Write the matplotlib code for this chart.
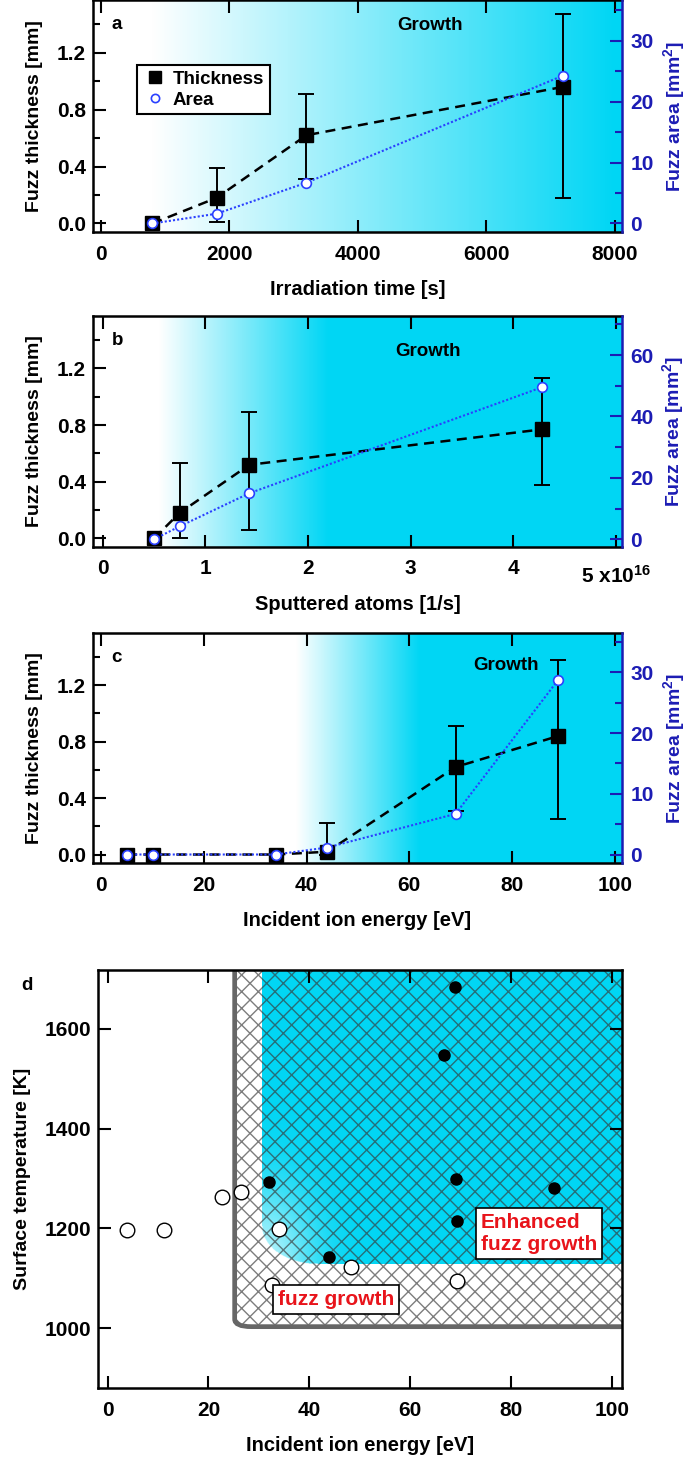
import numpy as np
import matplotlib
matplotlib.use("Agg")
import matplotlib.pyplot as plt
from matplotlib.patches import Rectangle, PathPatch
from matplotlib.path import Path
from matplotlib.ticker import MultipleLocator

plt.rcParams["font.family"] = ["Liberation Sans", "DejaVu Sans"]
plt.rcParams["font.weight"] = "bold"
plt.rcParams["axes.labelweight"] = "bold"
plt.rcParams["mathtext.fontset"] = "custom"
plt.rcParams["mathtext.rm"] = "Liberation Sans:bold"
plt.rcParams["mathtext.default"] = "rm"
plt.rcParams["hatch.linewidth"] = 1.0

CYAN = np.array([0.0, 0.84, 0.96])
BLUE_TXT = "#1c1cb4"
BLUE_LINE = "#2a40ff"
RED = "#e8141b"

# panel a: irradiation time
time_s = [800, 1800, 3200, 7200]
thick_a = [0.0, 0.18, 0.62, 0.96]
thick_a_lo = [0.0, 0.01, 0.31, 0.18]
thick_a_hi = [0.0, 0.39, 0.91, 1.47]
area_a = [0.0, 1.6, 6.7, 24.3]

# panel b: sputtered atoms (x1e16)
sputter = [0.5, 0.75, 1.43, 4.28]
thick_b = [0.0, 0.18, 0.52, 0.77]
thick_b_lo = [0.0, 0.0, 0.06, 0.38]
thick_b_hi = [0.0, 0.53, 0.89, 1.13]
area_b = [0.0, 4.2, 15.0, 49.5]

# panel c: ion energy
energy_c = [5, 10, 34, 44, 69, 89]
thick_c = [0.0, 0.0, 0.0, 0.02, 0.62, 0.84]
thick_c_lo = [0.0, 0.0, 0.0, 0.0, 0.31, 0.25]
thick_c_hi = [0.0, 0.0, 0.0, 0.22, 0.91, 1.38]
area_c = [0.0, 0.0, 0.0, 1.15, 6.7, 28.8]

# panel d: no fuzz (open) / fuzz (filled)
open_e = [3.8, 11.2, 22.6, 26.5, 34.0, 32.7, 48.2, 69.2]
open_T = [1196, 1196, 1263, 1272, 1198, 1087, 1122, 1094]
fill_e = [32.1, 44.0, 66.7, 68.8, 69.0, 69.2, 88.6]
fill_T = [1292, 1142, 1547, 1683, 1300, 1214, 1280]

fig = plt.figure(figsize=(6.85, 14.57), dpi=100)
W, H = 685, 1457


def add_ax(x0, x1, y0, y1):
    return fig.add_axes([x0 / W, 1 - y1 / H, (x1 - x0) / W, (y1 - y0) / H])


def gradient(ax, xlim, ylim, g0, g1):
    xs = np.linspace(xlim[0], xlim[1], 600)
    t = np.clip((xs - g0) / (g1 - g0), 0, 1)
    img = np.ones((1, len(xs), 3)) * (1 - t[None, :, None]) + CYAN * t[None, :, None]
    ax.imshow(img, extent=[xlim[0], xlim[1], ylim[0], ylim[1]], aspect="auto",
              interpolation="bilinear", zorder=0)


def fuzz_panel(box, x, th, lo, hi, area, xlim, rlim, rstep, g0, g1, letter, grow_xy):
    ylim = (-0.06, 1.57)
    ax = add_ax(*box)
    gradient(ax, xlim, ylim, g0, g1)
    x = np.array(x, float)
    th = np.array(th)
    lo = np.array(lo)
    hi = np.array(hi)
    m = (hi - lo) > 0
    ax.errorbar(x[m], th[m], yerr=[th[m] - lo[m], hi[m] - th[m]], fmt="none",
                ecolor="black", elinewidth=1.4, capsize=5.5, capthick=1.4, zorder=3)
    ax.plot(x, th, color="black", ls=(0, (4, 2.6)), lw=1.8, zorder=3)
    sq, = ax.plot(x, th, "s", color="black", ms=9.5, zorder=4, label="Thickness")
    ax.set_xlim(xlim)
    ax.set_ylim(ylim)
    ax.yaxis.set_major_locator(MultipleLocator(0.4))
    ax.yaxis.set_minor_locator(MultipleLocator(0.2))
    ax.yaxis.set_major_formatter(lambda v, p: f"{v:.1f}")
    ax.tick_params(which="both", direction="in", top=True, right=False, width=1.5,
                   labelsize=15)
    ax.tick_params(which="major", length=9)
    ax.tick_params(axis="x", pad=9)
    ax.tick_params(axis="y", pad=5)
    ax.tick_params(which="minor", length=5)
    for s in ax.spines.values():
        s.set_linewidth(1.8)
    ax.spines["right"].set_visible(False)
    ax.set_ylabel("Fuzz thickness [mm]", fontsize=14, labelpad=10)
    ax.text(0.035, 0.93, letter, transform=ax.transAxes, fontsize=13.5, va="top")
    ax.text(grow_xy[0], grow_xy[1], "Growth", fontsize=13.5, ha="center", va="center")

    ax2 = ax.twinx()
    ax2.plot(x, area, color=BLUE_LINE, ls=(0, (1, 1)), lw=1.5, zorder=3)
    ci, = ax2.plot(x, area, "o", mfc="white", mec=BLUE_LINE, mew=1.2, ms=7,
                   zorder=5, label="Area")
    ax2.set_ylim(rlim)
    ax2.yaxis.set_major_locator(MultipleLocator(rstep))
    ax2.yaxis.set_minor_locator(MultipleLocator(rstep / 2))
    ax2.tick_params(which="both", direction="in", colors=BLUE_TXT, width=1.5,
                    labelsize=15)
    ax2.tick_params(which="major", length=9, pad=6)
    ax2.tick_params(which="minor", length=5)
    for k, s in ax2.spines.items():
        s.set_linewidth(1.8)
        if k != "right":
            s.set_visible(False)
    ax2.spines["right"].set_color(BLUE_TXT)
    ax2.set_ylabel("Fuzz area [mm$^{2}$]", color=BLUE_TXT, fontsize=14, labelpad=5)
    return ax, ax2, sq, ci


# a
ax, ax2, sq, ci = fuzz_panel((93, 622, 0, 232), time_s, thick_a, thick_a_lo, thick_a_hi,
                             area_a, (-125, 8115), (-1.4, 36.7), 10, 800, 8000, "a",
                             (5120, 1.39))
ax.xaxis.set_major_locator(MultipleLocator(2000))
ax.set_xlabel("Irradiation time [s]", fontsize=14.5, labelpad=12)
leg = ax2.legend([sq, ci], ["Thickness", "Area"], loc="upper left",
                 bbox_to_anchor=(0.083, 0.72), borderaxespad=0, fontsize=13.5,
                 frameon=True, fancybox=False, edgecolor="black", framealpha=1,
                 handletextpad=0.3, borderpad=0.3, labelspacing=0.2, handlelength=1.3,
                 markerscale=0.85)
leg.get_frame().set_linewidth(1.5)

# b
ax, ax2, sq, ci = fuzz_panel((93, 622, 316, 547), sputter, thick_b, thick_b_lo, thick_b_hi,
                             area_b, (-0.093, 5.06), (-2.5, 72.7), 20, 0.55, 2.2, "b",
                             (3.17, 1.32))
ax.set_xticks([0, 1, 2, 3, 4, 5])
ax.set_xticklabels(["0", "1", "2", "3", "4", ""])
fig.text(616 / W, 1 - 576 / H, "5 x10$^{16}$", fontsize=15, ha="center", va="center")
ax.set_xlabel("Sputtered atoms [1/s]", fontsize=14.5, labelpad=12)

# c
ax, ax2, sq, ci = fuzz_panel((93, 622, 633, 863), energy_c, thick_c, thick_c_lo, thick_c_hi,
                             area_c, (-1.6, 101.4), (-1.4, 36.5), 10, 38, 62, "c",
                             (78.9, 1.34))
ax.xaxis.set_major_locator(MultipleLocator(20))
ax.set_xlabel("Incident ion energy [eV]", fontsize=14.5, labelpad=12)

# d
ax = add_ax(98, 622, 970, 1388)
xl, yl = (-1.9, 102), (880, 1718)
ax.set_xlim(xl)
ax.set_ylim(yl)

# cyan enhanced region with soft rounded corner
cx0, cy0, rx, ry = 30.7, 1128, 11.0, 75.0
gx = np.linspace(cx0, xl[1], 600)
gy = np.linspace(cy0, yl[1], 600)
GX, GY = np.meshgrid(gx, gy)
u = (GX - cx0) / rx
v = (GY - cy0) / ry
d = np.sqrt((1 - u) ** 2 + (1 - v) ** 2)
w = np.exp(-((GX - cx0) / 10.0) ** 2 - ((GY - cy0) / 150.0) ** 2)
alpha = 1 - 0.7 * w
alpha[(u < 1) & (v < 1) & (d > 1)] = 0
rgba = np.zeros(GX.shape + (4,))
rgba[..., :3] = CYAN
rgba[..., 3] = alpha
ax.imshow(rgba, extent=[cx0, xl[1], cy0, yl[1]], origin="lower", aspect="auto",
          interpolation="bilinear", zorder=0)

ax.add_patch(Rectangle((25.2, 1003), xl[1] - 25.2, yl[1] - 1003, hatch="xx",
                       fill=False, edgecolor=(0.22, 0.22, 0.22, 0.65), lw=0, zorder=1))
edge = Path([(25.2, yl[1]), (25.2, 1018), (25.2, 1003), (28.5, 1003), (xl[1], 1003)],
            [Path.MOVETO, Path.LINETO, Path.CURVE3, Path.CURVE3, Path.LINETO])
ax.add_patch(PathPatch(edge, fill=False, edgecolor="#666666", lw=3.4, zorder=2,
                       capstyle="butt"))

ax.plot(open_e, open_T, "o", mfc="white", mec="black", mew=1.0, ms=10.5, zorder=4)
ax.plot(fill_e, fill_T, "o", color="black", ms=8, zorder=4)

ax.text(45.3, 1058, "fuzz growth", color=RED, fontsize=15, ha="center", va="center",
        zorder=5, bbox=dict(boxstyle="square,pad=0.25", fc="white", ec="black", lw=1.2))
ax.text(74.0, 1190, "Enhanced\nfuzz growth", color=RED, fontsize=15, ha="left",
        va="center", linespacing=1.2, zorder=5,
        bbox=dict(boxstyle="square,pad=0.25", fc="white", ec="black", lw=1.2))

ax.xaxis.set_major_locator(MultipleLocator(20))
ax.yaxis.set_major_locator(MultipleLocator(200))
ax.tick_params(direction="in", top=True, right=True, width=1.5, length=9,
               labelsize=15)
ax.tick_params(axis="x", pad=9)
ax.tick_params(axis="y", pad=5)
for s in ax.spines.values():
    s.set_linewidth(1.8)
ax.set_xlabel("Incident ion energy [eV]", fontsize=14.5, labelpad=12)
ax.set_ylabel("Surface temperature [K]", fontsize=14, labelpad=10)
fig.text(27 / W, 1 - 985 / H, "d", fontsize=13.5, ha="center", va="center")

fig.savefig("out.png", dpi=100)
